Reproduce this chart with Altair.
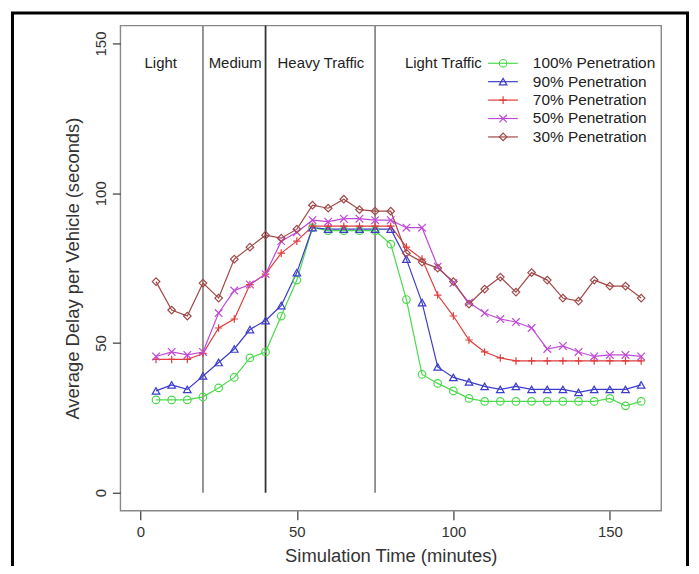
import altair as alt
import pandas as pd

# ---------------- data ----------------
time_min = [5, 10, 15, 20, 25, 30, 35, 40, 45, 50, 55, 60, 65, 70, 75, 80,
            85, 90, 95, 100, 105, 110, 115, 120, 125, 130, 135, 140, 145, 150, 155, 160]

pen100 = [31, 31, 31, 32, 35, 38.5, 45, 47, 59, 71, 88.5, 87.5, 87.5, 87.5, 87.5, 83,
          64.5, 39.5, 36.5, 34, 31.5, 30.5, 30.5, 30.5, 30.5, 30.5, 30.5, 30.5, 30.5, 31.5, 29, 30.5]
pen90 = [34, 36, 34.5, 39, 43.5, 48, 54.5, 57.5, 62.5, 73.5, 88.5, 88, 88, 88, 88, 88,
         78, 63.5, 42, 38.5, 37, 35.5, 34.5, 35.5, 34.5, 34.5, 34.5, 33.5, 34.5, 34.5, 34.5, 36]
pen70 = [44.5, 44.5, 44.5, 46.5, 55, 58, 69.5, 73, 80, 84, 89, 89, 89, 89, 89, 89,
         82, 78, 66, 59, 51, 47, 45, 44, 44, 44, 44, 44, 44, 44, 44, 44]
pen50 = [45.5, 47, 46, 47, 60, 67.5, 69.5, 73, 84, 87, 91, 90.5, 91.5, 91.5, 91, 91,
         88.5, 88.5, 75.5, 70, 63.5, 60, 58, 57, 55, 48, 49, 47, 45.5, 46, 46, 45.5]
pen30 = [70.5, 61, 59, 70, 65, 78, 82, 86, 85, 88, 96, 95, 98, 94.5, 94, 94,
         80, 77, 75, 70.5, 63, 68, 72, 67, 73.5, 71, 65, 64, 71, 69, 69, 65]

series_labels = ["100% Penetration", "90% Penetration", "70% Penetration",
                 "50% Penetration", "30% Penetration"]
series_values = [pen100, pen90, pen70, pen50, pen30]
series_colors = ["#4cd94c", "#3d3dcc", "#e03c3c", "#c04ad8", "#a04848"]
series_shapes = ["circle", "triangle-up", "M-1,0H1M0,-1V1",
                 "M-1,-1L1,1M-1,1L1,-1", "diamond"]

phase_bounds = [20, 40, 75]
phase_colors = ["#8a8a8a", "#333333", "#8a8a8a"]
phase_labels = ["Light", "Medium", "Heavy Traffic", "Light Traffic"]
phase_label_x = [6.5, 30.3, 57.7, 96.8]
phase_label_y = 143.6

x_ticks = [0, 50, 100, 150]
y_ticks = [0, 50, 100, 150]

# ---------------- tables ----------------
rows = []
for lab, vals in zip(series_labels, series_values):
    for t, v in zip(time_min, vals):
        rows.append({"time": t, "delay": v, "series": lab})
df = pd.DataFrame(rows)

rules_df = pd.DataFrame({"x": phase_bounds, "c": phase_colors})
labels_df = pd.DataFrame({"x": phase_label_x, "label": phase_labels,
                          "y": [phase_label_y] * len(phase_labels)})
legend_df = pd.DataFrame({"label": series_labels,
                          "ly": [143.4 - 6.15 * i for i in range(len(series_labels))]})

FONT = "Liberation Sans"
xscale = alt.Scale(domain=[-6.4, 166.4], nice=False, zero=False)
yscale = alt.Scale(domain=[-6, 156], nice=False, zero=False)
cscale = alt.Scale(domain=series_labels, range=series_colors)
sscale = alt.Scale(domain=series_labels, range=series_shapes)

X = alt.X("time:Q", scale=xscale,
          axis=alt.Axis(values=x_ticks, title="Simulation Time (minutes)",
                        tickSize=9, labelPadding=5, titlePadding=7,
                        labelFontSize=15, titleFontSize=18.5))
Y = alt.Y("delay:Q", scale=yscale,
          axis=alt.Axis(values=y_ticks, title="Average Delay per Vehicle (seconds)",
                        tickSize=8, labelAngle=270, labelAlign="center",
                        labelBaseline="bottom", labelPadding=4, titlePadding=11,
                        labelFontSize=15, titleFontSize=18.5))

base = alt.Chart(df)
lines = base.mark_line(strokeWidth=1.2).encode(
    x=X, y=Y, color=alt.Color("series:N", scale=cscale, legend=None))
points = base.mark_point(filled=False, size=58, strokeWidth=1.2, opacity=1).encode(
    x="time:Q", y="delay:Q",
    color=alt.Color("series:N", scale=cscale, legend=None),
    shape=alt.Shape("series:N", scale=sscale, legend=None))

vrules = alt.Chart(rules_df).mark_rule(strokeWidth=1.8).encode(
    x="x:Q", y=alt.datum(0), y2=alt.datum(156),
    color=alt.Color("c:N", scale=None))

phase_text = alt.Chart(labels_df).mark_text(
    font=FONT, fontSize=15, color="#222222", baseline="middle").encode(
    x="x:Q", y="y:Q", text="label:N")

leg_line = alt.Chart(legend_df).mark_rule(strokeWidth=1.2).encode(
    x=alt.datum(111.1), x2=alt.datum(120.6), y="ly:Q",
    color=alt.Color("label:N", scale=cscale, legend=None))
leg_pt = alt.Chart(legend_df).mark_point(filled=False, size=58, strokeWidth=1.2, opacity=1).encode(
    x=alt.datum(115.9), y="ly:Q",
    color=alt.Color("label:N", scale=cscale, legend=None),
    shape=alt.Shape("label:N", scale=sscale, legend=None))
leg_txt = alt.Chart(legend_df).mark_text(
    font=FONT, fontSize=15.5, color="#222222", align="left", baseline="middle").encode(
    x=alt.datum(125.4), y="ly:Q", text="label:N")

frame = alt.Chart(alt.Data(values=[{}])).mark_rect(
    fillOpacity=0, stroke="black", strokeWidth=3, clip=False).encode(
    x=alt.value(-108.5), x2=alt.value(570.5), y=alt.value(-12.5), y2=alt.value(560))

chart = alt.layer(vrules, lines, points, phase_text, leg_line, leg_pt, leg_txt, frame).properties(
    width=544, height=488,
    autosize=alt.AutoSizeParams(type="none"),
    padding={"left": 113, "top": 16, "right": 30, "bottom": 54},
    background="white",
).configure_view(
    stroke="#888888", strokeWidth=1.4
).configure_axis(
    grid=False, domain=False, tickColor="#555555", tickWidth=1.4,
    labelColor="#333333", titleColor="#333333",
    labelFont=FONT, titleFont=FONT, titleFontWeight="normal",
)

chart.save("out.html", embed_options={"renderer": "svg", "actions": False})
